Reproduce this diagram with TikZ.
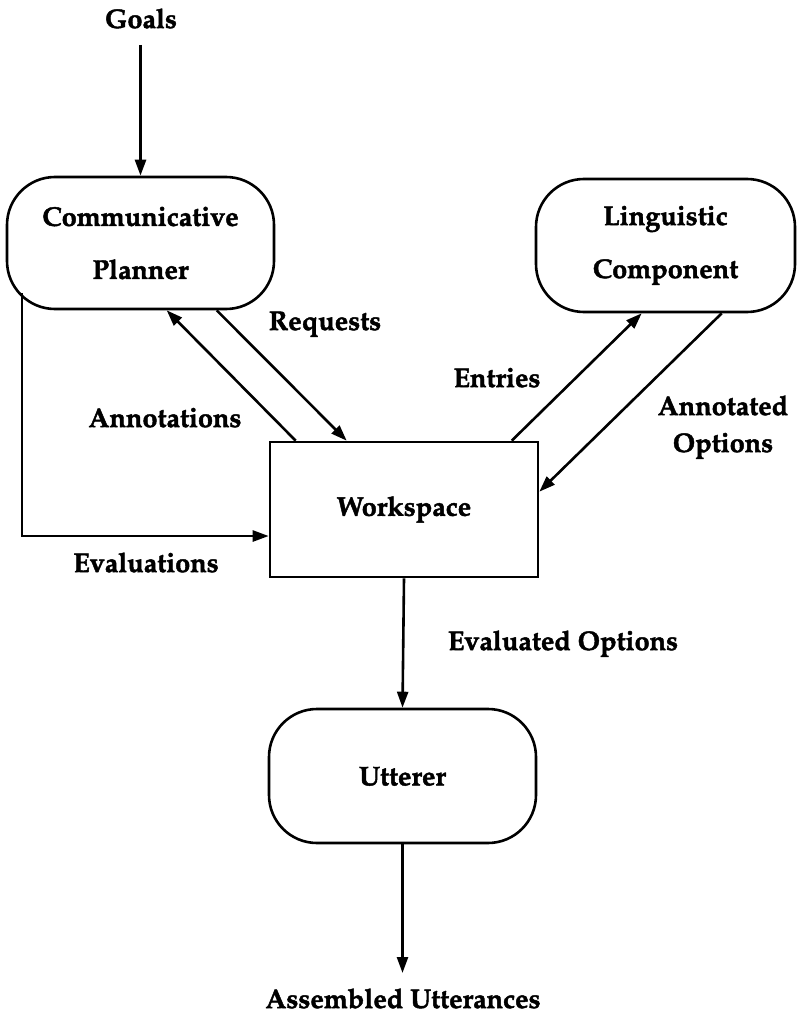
\documentclass[tikz,border=0pt]{standalone}
\usepackage[T1]{fontenc}
\usepackage{mathpazo}
\usetikzlibrary{arrows.meta,calc}
\newcommand{\tstrut}{\rule{0pt}{19pt}}
\newcommand{\bstrut}{\rule[-7pt]{0pt}{7pt}}
\newcommand{\heavy}{\special{pdf:literal 2 Tr 0.45 w}}
\begin{document}
\begin{tikzpicture}[x=1pt,y=-1pt,
  lw/.style={line width=2.6pt},
  arr/.style={lw,-{Triangle[length=16pt,width=11pt]}},
  txt/.style={font=\fontsize{27}{53}\selectfont\bfseries,inner sep=0pt,execute at begin node=\heavy},
  lbl/.style={txt,anchor=base},
  roundbox/.style={txt,draw,lw,rounded corners=48pt,align=center},
  sqbox/.style={txt,draw,lw,align=center}]
\useasboundingbox (0,0) rectangle (796,1014);

\node[roundbox,minimum width=267pt,minimum height=132pt] (planner) at (140.5,243) {\tstrut Communicative\\Planner};
\node[roundbox,minimum width=259pt,minimum height=133pt] (ling) at (665.5,245.5) {\tstrut Linguistic\\Component\bstrut};
\node[sqbox,minimum width=268pt,minimum height=135pt] (work) at (404,509.5) {\tstrut Workspace\bstrut};
\node[roundbox,minimum width=267pt,minimum height=134pt] (utt) at (402.5,776) {\tstrut Utterer};

\node[lbl] (goals) at (141,28) {Goals};
\node[lbl] (requests) at (325,330) {Requests};
\node[lbl] (annot) at (165,427) {Annotations};
\node[lbl] (evals) at (146,572) {Evaluations};
\node[lbl] (entries) at (497,387) {Entries};
\node[lbl,align=center,font=\fontsize{27}{37}\selectfont\bfseries] (annopt) at (723,452) {Annotated\\Options};
\node[lbl] (evalopt) at (563,650) {Evaluated Options};
\node[lbl] (assembled) at (403,1008) {Assembled Utterances};

\coordinate (goalsEnd) at (140.5,45);
\coordinate (asmEnd) at (402.5,973);
\coordinate (evStart) at (22,293);
\coordinate (evCorner) at (22,536);

\draw[arr] (goalsEnd) -- (planner.north);
\draw[arr] ($(work.north west)+(27,0)$) -- ($(planner.south west)+(161,0)$);
\draw[arr] ($(planner.south west)+(211,0)$) -- ($(work.north west)+(78,0)$);
\draw[arr] ($(work.north west)+(243,0)$) -- ($(ling.south west)+(107,0)$);
\draw[arr] ($(ling.south west)+(187,0)$) -- ($(work.north east)+(0,51)$);
\draw[arr] (evStart) -- (evCorner) -- (work.west |- evCorner);
\draw[arr] (work.south) -- (utt.north);
\draw[arr] (utt.south) -- (asmEnd);
\end{tikzpicture}
\end{document}
